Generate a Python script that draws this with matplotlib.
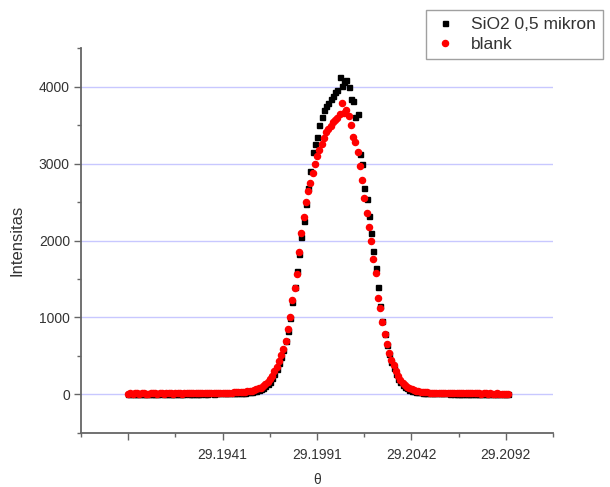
import numpy as np
import matplotlib as mpl
mpl.use('Agg')
import matplotlib.pyplot as plt
from matplotlib.ticker import FixedLocator

plt.rcParams['font.family'] = ['Liberation Sans', 'DejaVu Sans']

# scan angle (theta) for both runs
theta = [
    29.18906, 29.18918, 29.18930, 29.18942, 29.18954, 29.18966, 29.18978, 29.18990, 29.19002, 29.19014,
    29.19026, 29.19038, 29.19050, 29.19062, 29.19074, 29.19086, 29.19098, 29.19110, 29.19122, 29.19134,
    29.19146, 29.19158, 29.19170, 29.19182, 29.19194, 29.19206, 29.19218, 29.19230, 29.19242, 29.19254,
    29.19266, 29.19278, 29.19290, 29.19302, 29.19314, 29.19326, 29.19338, 29.19350, 29.19362, 29.19374,
    29.19386, 29.19398, 29.19410, 29.19422, 29.19434, 29.19446, 29.19458, 29.19470, 29.19482, 29.19494,
    29.19506, 29.19518, 29.19530, 29.19542, 29.19554, 29.19566, 29.19578, 29.19590, 29.19602, 29.19614,
    29.19626, 29.19638, 29.19650, 29.19662, 29.19674, 29.19686, 29.19698, 29.19710, 29.19722, 29.19734,
    29.19746, 29.19758, 29.19770, 29.19782, 29.19794, 29.19806, 29.19818, 29.19830, 29.19842, 29.19854,
    29.19866, 29.19878, 29.19890, 29.19902, 29.19914, 29.19926, 29.19938, 29.19950, 29.19962, 29.19974,
    29.19986, 29.19998, 29.20010, 29.20022, 29.20034, 29.20046, 29.20058, 29.20070, 29.20082, 29.20094,
    29.20106, 29.20118, 29.20130, 29.20142, 29.20154, 29.20166, 29.20178, 29.20190, 29.20202, 29.20214,
    29.20226, 29.20238, 29.20250, 29.20262, 29.20274, 29.20286, 29.20298, 29.20310, 29.20322, 29.20334,
    29.20346, 29.20358, 29.20370, 29.20382, 29.20394, 29.20406, 29.20418, 29.20430, 29.20442, 29.20454,
    29.20466, 29.20478, 29.20490, 29.20502, 29.20514, 29.20526, 29.20538, 29.20550, 29.20562, 29.20574,
    29.20586, 29.20598, 29.20610, 29.20622, 29.20634, 29.20646, 29.20658, 29.20670, 29.20682, 29.20694,
    29.20706, 29.20718, 29.20730, 29.20742, 29.20754, 29.20766, 29.20778, 29.20790, 29.20802, 29.20814,
    29.20826, 29.20838, 29.20850, 29.20862, 29.20874, 29.20886, 29.20898, 29.20910, 29.20922, 29.20934,
]

sio2 = [
    8, 10, 6, 9, 12, 7, 9, 11, 8, 6,
    10, 12, 9, 7, 10, 13, 8, 10, 11, 9,
    7, 10, 12, 10, 8, 11, 13, 10, 9, 12,
    10, 12, 11, 13, 12, 10, 13, 14, 12, 14,
    15, 13, 15, 14, 16, 15, 17, 18, 17, 19,
    20, 22, 24, 27, 30, 34, 40, 48, 58, 70,
    85, 105, 130, 165, 210, 265, 330, 410, 490, 580,
    690, 830, 990, 1200, 1400, 1600, 1820, 2050, 2250, 2480,
    2680, 2900, 3150, 3250, 3350, 3500, 3600, 3700, 3750, 3790,
    3840, 3880, 3930, 3960, 4130, 4010, 4060, 4080, 4000, 3840,
    3810, 3600, 3640, 3130, 3000, 2680, 2540, 2320, 2100, 1870,
    1640, 1400, 1150, 960, 790, 640, 520, 420, 340, 265,
    205, 160, 125, 98, 78, 62, 50, 42, 36, 31,
    27, 24, 22, 20, 19, 18, 17, 16, 15, 15,
    14, 13, 14, 12, 13, 12, 11, 12, 10, 11,
    10, 11, 12, 10, 9, 11, 10, 9, 10, 11,
    9, 10, 8, 9, 10, 8, 9, 7, 9, 8,
]

blank = [
    12, 15, 10, 14, 18, 11, 13, 16, 12, 9,
    14, 17, 13, 11, 15, 18, 12, 14, 16, 13,
    10, 15, 17, 14, 12, 16, 19, 15, 13, 17,
    14, 18, 16, 20, 17, 15, 19, 21, 18, 20,
    22, 19, 23, 21, 24, 22, 25, 27, 26, 28,
    30, 32, 35, 40, 43, 50, 56, 65, 78, 90,
    110, 132, 160, 200, 245, 300, 360, 440, 515, 590,
    700, 850, 1000, 1230, 1380, 1560, 1850, 2100, 2300, 2500,
    2640, 2750, 2880, 3000, 3100, 3170, 3250, 3330, 3410, 3450,
    3490, 3540, 3570, 3590, 3640, 3780, 3660, 3700, 3620, 3500,
    3340, 3280, 3150, 2965, 2780, 2550, 2360, 2180, 1990, 1760,
    1580, 1250, 1120, 940, 780, 650, 540, 450, 380, 300,
    240, 190, 155, 125, 100, 82, 68, 58, 48, 40,
    34, 30, 28, 27, 25, 24, 23, 22, 21, 20,
    20, 19, 18, 19, 17, 18, 16, 17, 15, 16,
    14, 15, 16, 14, 13, 15, 14, 12, 13, 14,
    12, 13, 11, 12, 13, 11, 12, 10, 12, 11,
]

xmajor = [29.18906, 29.194095, 29.19913, 29.204165, 29.2092]
xlabels = ['', '29.1941', '29.1991', '29.2042', '29.2092']
xminor = [29.186543, 29.191578, 29.196613, 29.201648, 29.206683, 29.211718]
yticks = [0, 1000, 2000, 3000, 4000]

fig = plt.figure(figsize=(6.1, 4.87), dpi=100)
ax = fig.add_axes([0.1328, 0.1109, 0.7738, 0.7905])

ax.plot(theta, sio2, ls='none', marker='s', ms=3.6, color='black', mec='black', label='SiO2 0,5 mikron')
ax.plot(theta, blank, ls='none', marker='o', ms=4.4, color='red', mec='red', label='blank')

ax.set_xlim(xminor[0], xminor[-1])
ax.set_ylim(-500, 4500)

ax.xaxis.set_major_locator(FixedLocator(xmajor))
ax.set_xticklabels(xlabels)
ax.xaxis.set_minor_locator(FixedLocator(xminor))
ax.set_yticks(yticks)
ax.yaxis.set_minor_locator(FixedLocator([-500, 500, 1500, 2500, 3500, 4500]))

ax.grid(axis='y', which='major', color='#c8c8ff', lw=1.0)
ax.set_axisbelow(True)

for s in ['top', 'right']:
    ax.spines[s].set_visible(False)
for s in ['left', 'bottom']:
    ax.spines[s].set_color('#666666')
    ax.spines[s].set_linewidth(1.3)

ax.tick_params(which='major', length=5, width=1.0, color='#666666', labelsize=10, labelcolor='#333333')
ax.tick_params(which='minor', length=3, width=1.0, color='#666666')
ax.tick_params(axis='x', which='major', pad=6)
ax.tick_params(axis='y', which='major', pad=3)

ax.set_ylabel('Intensitas', fontsize=12, color='#333333', labelpad=10)
ax.set_xlabel('θ', fontsize=10, color='#333333', labelpad=8)

leg = fig.legend(loc='upper right', bbox_to_anchor=(0.9885, 0.9795), fontsize=12.5,
                 numpoints=1, handlelength=1.4, handletextpad=0.8, labelspacing=0.3,
                 borderpad=0.4, fancybox=False, frameon=True, borderaxespad=0)
leg.get_frame().set_edgecolor('#888888')
leg.get_frame().set_linewidth(1.0)
for t in leg.get_texts():
    t.set_color('#333333')

plt.savefig('out.png', dpi=100)
